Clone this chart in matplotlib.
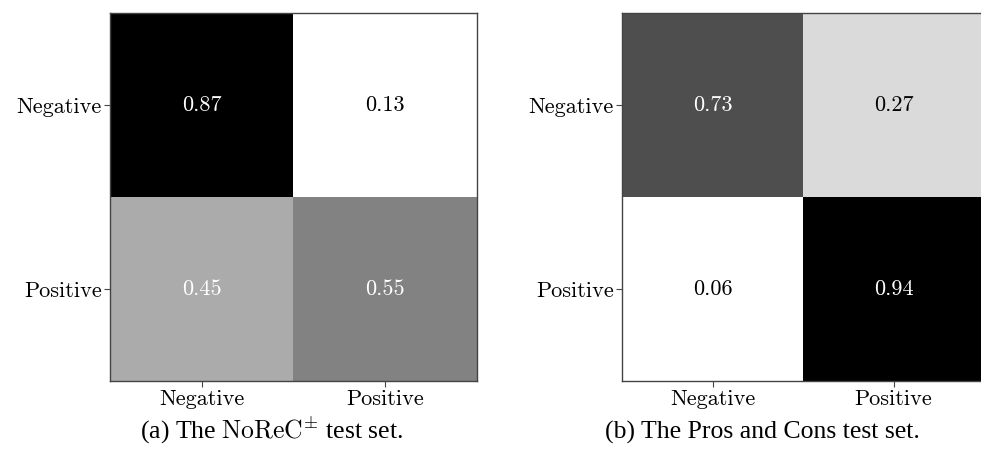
import numpy as np
import matplotlib; matplotlib.use("Agg")
import matplotlib.pyplot as plt

plt.rcParams["mathtext.fontset"] = "cm"

labels = ["Negative", "Positive"]
norec = np.array([[0.87, 0.13],
                  [0.45, 0.55]])
proscons = np.array([[0.73, 0.27],
                     [0.06, 0.94]])
# text colour per cell as in the original figure
norec_txt = [["white", "black"], ["white", "white"]]
proscons_txt = [["white", "black"], ["black", "white"]]
captions = [r"(a) The $\mathrm{NoReC}^{\pm}$ test set.",
            "(b) The Pros and Cons test set."]

fig = plt.figure(figsize=(9.81, 4.55), dpi=100)
ax1 = fig.add_axes([110 / 981, 1 - 381 / 455, 367 / 981, 368 / 455])
ax2 = fig.add_axes([622 / 981, 1 - 381 / 455, 362 / 981, 368 / 455])

for ax, M, tc in [(ax1, norec, norec_txt), (ax2, proscons, proscons_txt)]:
    ax.imshow(M, cmap="Greys", aspect="auto")
    for i in range(2):
        for j in range(2):
            ax.text(j, i, f"{M[i, j]:.2f}", ha="center", va="center",
                    color=tc[i][j], fontsize=16, fontfamily="cmr10")
    ax.set_xticks(range(2)); ax.set_yticks(range(2))
    ax.set_xticklabels(labels, fontsize=16, fontfamily="cmr10")
    ax.set_yticklabels(labels, fontsize=16, fontfamily="cmr10")
    for s in ax.spines.values():
        s.set_color("#444444"); s.set_linewidth(1.0)
    ax.tick_params(length=4, color="#444444", pad=2)

fig.text(272 / 981, 1 - 439 / 455, captions[0], ha="center", va="baseline",
         fontsize=18.5, fontfamily="Liberation Serif")
fig.text(762 / 981, 1 - 439 / 455, captions[1], ha="center", va="baseline",
         fontsize=18.5, fontfamily="Liberation Serif")

fig.savefig("out.png", dpi=100)
